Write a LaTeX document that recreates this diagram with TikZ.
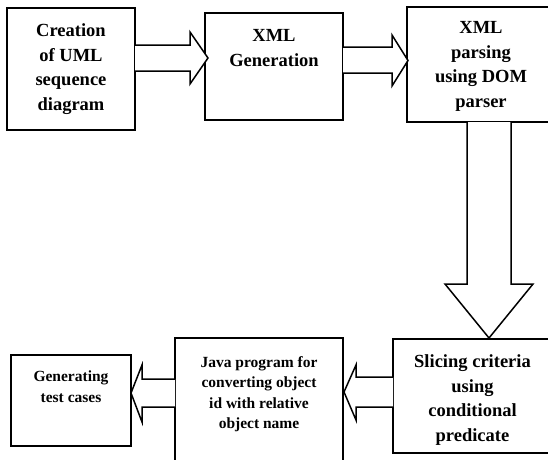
\documentclass[tikz,border=0pt]{standalone}
\usepackage{fontspec}
\setmainfont{Liberation Serif}
\usetikzlibrary{calc}
\begin{document}
\begin{tikzpicture}[x=1pt,y=1pt,
  box/.style={draw, line width=1.8pt, inner sep=0pt, outer sep=0pt, anchor=north west},
  barrow/.style={draw, line width=1.5pt, fill=white, line join=miter},
  bigtext/.style={font=\fontsize{18.5}{24.7}\selectfont\bfseries, align=center, inner sep=0pt},
  smalltext/.style={font=\fontsize{15.5}{20.5}\selectfont\bfseries, align=center, inner sep=0pt},
]
\useasboundingbox (0,0) rectangle (548,-459);
\clip (0,0) rectangle (548,-459);
% boxes
\node[box, minimum width=128pt, minimum height=122pt] (b1) at (7,-8) {};
\node[box, minimum width=138pt, minimum height=107pt] (b2) at (205,-13) {};
\node[box, minimum width=148pt, minimum height=115pt] (b3) at (407,-7) {};
\node[box, minimum width=159pt, minimum height=114pt] (b5) at (393,-339) {};
\node[box, minimum width=168pt, minimum height=142pt] (b4) at (175,-338) {};
\node[box, minimum width=120pt, minimum height=91pt] (b6) at (11,-355) {};
% texts
\node[bigtext] (t1) at (71,-69) {Creation\\of UML\\sequence\\diagram};
\node[bigtext, anchor=north] (t2) at (274,-29) {XML\\Generation};
\node[bigtext] (t3) at (481,-66.5) {XML\\parsing\\using DOM\\parser};
\node[bigtext] (t5) at (472.5,-400) {Slicing criteria\\using\\conditional\\predicate};
\node[smalltext, anchor=north] (t4) at (259,-356) {Java program for\\converting object\\id with relative\\object name};
\node[smalltext, anchor=north] (t6) at (71,-371) {Generating\\test cases};
% block arrows
\draw[barrow] let \p1=(b1.east), \p2=(b2.west) in
  (\x1,-45pt) -- (\x2-15pt,-45pt) -- (\x2-15pt,-32pt) -- (\x2+3pt,-58pt)
  -- (\x2-15pt,-84pt) -- (\x2-15pt,-71pt) -- (\x1,-71pt);
\draw[barrow] let \p1=(b2.east), \p2=(b3.west) in
  (\x1,-47pt) -- (\x2-15pt,-47pt) -- (\x2-15pt,-35pt) -- (\x2+1pt,-60.5pt)
  -- (\x2-15pt,-86pt) -- (\x2-15pt,-73pt) -- (\x1,-73pt);
\draw[barrow] let \p1=(b3.south), \p2=(b5.north) in
  (467pt,\y1) -- (467pt,\y2+55pt) -- (445pt,\y2+55pt) -- (489pt,\y2+1pt)
  -- (533pt,\y2+55pt) -- (511pt,\y2+55pt) -- (511pt,\y1);
\draw[barrow] let \p1=(b5.west), \p2=(b4.east) in
  (\x1,-377pt) -- (\x2+13pt,-377pt) -- (\x2+13pt,-365pt) -- (\x2+1pt,-392pt)
  -- (\x2+13pt,-420pt) -- (\x2+13pt,-407pt) -- (\x1,-407pt);
\draw[barrow] let \p1=(b4.west), \p2=(b6.east) in
  (\x1,-379pt) -- (\x2+11pt,-379pt) -- (\x2+11pt,-365pt) -- (\x2,-393pt)
  -- (\x2+11pt,-422pt) -- (\x2+11pt,-407pt) -- (\x1,-407pt);
\end{tikzpicture}
\end{document}
